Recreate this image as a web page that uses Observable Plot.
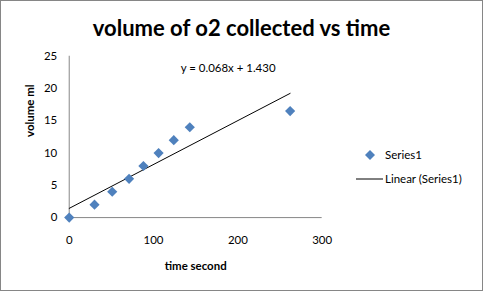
<!DOCTYPE html>
<html>
<head>
<meta charset="utf-8">
<script src="https://cdn.jsdelivr.net/npm/d3@7"></script>
<script src="https://cdn.jsdelivr.net/npm/@observablehq/plot@0.6"></script>
<style>
  html, body { margin: 0; padding: 0; background: #fff; }
  #chart {
    position: relative; width: 481px; height: 289px;
    border: 1px solid #868686; background: #fff;
    font-family: Lato, "Open Sans", sans-serif; color: #000;
  }
  #chart svg { position: absolute; left: -1px; top: -1px; }
  .title {
    position: absolute; left: 0; width: 481px; top: 13px;
    text-align: center; font-weight: bold; font-size: 22px; line-height: 28px;
  }
  .legend { position: absolute; left: 354px; top: 146px; font-size: 11.5px; }
  .legend .row { position: absolute; white-space: nowrap; height: 16px; line-height: 16px; }
  .legend .lbl { position: absolute; left: 30px; }
</style>
</head>
<body>
<div id="chart">
  <div class="title">volume of o2 collected vs time</div>
  <div class="legend">
    <div class="row" style="top:0">
      <svg width="30" height="16" style="position:absolute;left:0;top:0"><path d="M15,3L20,8L15,13L10,8Z" fill="#4F81BD"/></svg>
      <span class="lbl">Series1</span>
    </div>
    <div class="row" style="top:24px">
      <svg width="30" height="16" style="position:absolute;left:0;top:0"><line x1="1" x2="28" y1="8" y2="8" stroke="#000" stroke-width="1"/></svg>
      <span class="lbl">Linear (Series1)</span>
    </div>
  </div>
</div>
<script>
// time (s) and collected O2 volume (ml)
const timeSeconds = [0, 30, 51, 71, 88, 106, 124, 143, 262];
const volumeMl = [0, 2, 4, 6, 8, 10, 12, 14, 16.5];

// linear trendline coefficients as printed on the chart
const slope = 0.068;
const intercept = 1.430;

const xTicks = [0, 100, 200, 300];
const yTicks = [0, 5, 10, 15, 20, 25];

const points = timeSeconds.map((t, i) => ({t, v: volumeMl[i]}));
const xMax = d3.max(timeSeconds);
const trend = [0, xMax].map(t => ({t, v: slope * t + intercept}));
const equation = `y = ${slope.toFixed(3)}x + ${intercept.toFixed(3)}`;

const plot = Plot.plot({
  width: 483,
  height: 291,
  marginLeft: 69,
  marginRight: 160,
  marginTop: 56,
  marginBottom: 73,
  style: {fontFamily: "Lato, 'Open Sans', sans-serif", fontSize: "11.5px", color: "#000", background: "transparent", overflow: "visible"},
  x: {domain: [0, 300], label: null},
  y: {domain: [0, 25], label: null},
  marks: [
    Plot.ruleX([0], {stroke: "#868686"}),
    Plot.ruleY([0], {stroke: "#868686"}),
    Plot.axisX({ticks: xTicks, tickSize: 0, tickPadding: 18, label: null, fill: "#000"}),
    Plot.axisY({ticks: yTicks, tickSize: 0, tickPadding: 12, label: null, fill: "#000"}),
    Plot.line(trend, {x: "t", y: "v", stroke: "#000", strokeWidth: 1}),
    Plot.dot(points, {x: "t", y: "v", symbol: "diamond2", r: 4.6, fill: "#4F81BD", stroke: null}),
    Plot.text([equation], {frameAnchor: "top-left", dx: 112, dy: 8, text: d => d, textAnchor: "start", fontSize: 11.5}),
    Plot.text(["time second"], {frameAnchor: "bottom", dy: 53, text: d => d, fontWeight: "bold", fontSize: 11.5}),
    Plot.text(["volume ml"], {frameAnchor: "left", dx: -39, rotate: -90, text: d => d, fontWeight: "bold", fontSize: 11.5})
  ]
});
document.getElementById("chart").appendChild(plot);
</script>
</body>
</html>
